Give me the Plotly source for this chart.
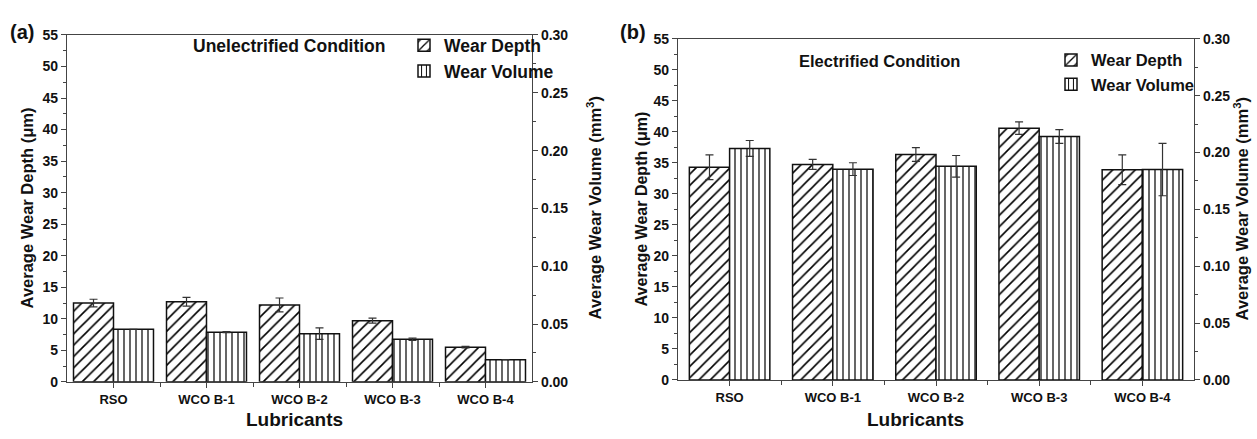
import plotly.graph_objects as go

categories = ["RSO", "WCO B-1", "WCO B-2", "WCO B-3", "WCO B-4"]

unelec_depth = [12.5, 12.7, 12.2, 9.7, 5.5]
unelec_depth_err = [0.6, 0.7, 1.1, 0.4, 0.12]
unelec_volume = [0.0455, 0.0430, 0.0417, 0.0369, 0.0192]
unelec_volume_err = [0.0, 0.0005, 0.005, 0.001, 0.0]

elec_depth = [34.3, 34.75, 36.35, 40.6, 33.9]
elec_depth_err = [2.0, 0.8, 1.1, 1.0, 2.4]
elec_volume = [0.2036, 0.1854, 0.1879, 0.2141, 0.1850]
elec_volume_err = [0.007, 0.0056, 0.0095, 0.006, 0.023]

depth_ticks = [0, 5, 10, 15, 20, 25, 30, 35, 40, 45, 50, 55]
volume_ticks = [0.00, 0.05, 0.10, 0.15, 0.20, 0.25, 0.30]

W, H = 1257, 439
FONT = "Liberation Sans"
AX = "#444"


def px(x):
    return x / W


def py(y):
    return 1 - y / H


idx = list(range(len(categories)))

fig = go.Figure()


def add_panel(depth, depth_err, vol, vol_err, xa, ya, ya2, legend, bw):
    fig.add_trace(go.Bar(
        x=idx, y=depth, name="Wear Depth", xaxis=xa, yaxis=ya, legend=legend,
        width=bw, offset=-bw,
        marker=dict(color="white", line=dict(color="#111", width=1.5),
                    pattern=dict(shape="/", fgcolor="#000", bgcolor="white", size=8,
                                 solidity=0.2, fgopacity=1)),
        error_y=dict(type="data", array=depth_err, visible=True, color="#333", thickness=1.2, width=4),
    ))
    fig.add_trace(go.Bar(
        x=idx, y=vol, name="Wear Volume", xaxis=xa, yaxis=ya2, legend=legend,
        width=bw, offset=0,
        marker=dict(color="white", line=dict(color="#111", width=1.5),
                    pattern=dict(shape="|", fgcolor="#000", bgcolor="white", size=6,
                                 solidity=0.2, fgopacity=1)),
        error_y=dict(type="data", array=vol_err, visible=True, color="#333", thickness=1.2, width=4),
    ))


add_panel(unelec_depth, unelec_depth_err, unelec_volume, unelec_volume_err, "x", "y", "y2", "legend", 0.43)
add_panel(elec_depth, elec_depth_err, elec_volume, elec_volume_err, "x2", "y3", "y4", "legend2", 0.39)

tickfont_num = dict(family=FONT, size=14, color="#111", weight="bold")
tickfont_cat = dict(family=FONT, size=13, color="#111", weight="bold")


def xaxis(dom, anchor):
    return dict(domain=dom, anchor=anchor, range=[-0.5, 4.5], tickmode="array", tickvals=idx,
                ticktext=categories, ticks="outside", ticklen=5, tickcolor=AX, tickwidth=1,
                showline=True, linecolor=AX, linewidth=1.2, mirror=True, showgrid=False,
                zeroline=False, tickfont=tickfont_cat,
                minor=dict(tickmode="array", tickvals=[0.5, 1.5, 2.5, 3.5], ticks="outside",
                           ticklen=4, tickcolor=AX))


def yleft(dom, anchor):
    return dict(domain=dom, anchor=anchor, range=[0, 55], tickmode="array", tickvals=depth_ticks,
                ticks="outside", ticklen=5, tickcolor=AX, showline=True, linecolor=AX, linewidth=1.2,
                showgrid=False, zeroline=False, tickfont=tickfont_num,
                minor=dict(dtick=2.5, tick0=0, ticks="outside", ticklen=3, tickcolor=AX))


def yright(over, anchor):
    return dict(overlaying=over, anchor=anchor, side="right", range=[0, 0.30], tickmode="array",
                tickvals=volume_ticks, tickformat=".2f", ticks="outside", ticklen=5, tickcolor=AX,
                showline=True, linecolor=AX, linewidth=1.2, showgrid=False, zeroline=False,
                tickfont=tickfont_num,
                minor=dict(dtick=0.025, tick0=0, ticks="outside", ticklen=3, tickcolor=AX))


fig.update_layout(
    width=W, height=H, margin=dict(l=0, r=0, t=0, b=0),
    paper_bgcolor="white", plot_bgcolor="white", barmode="overlay",
    xaxis=xaxis([px(67), px(532)], "y"),
    yaxis=yleft([py(388), py(28)], "x"),
    yaxis2=yright("y", "x"),
    xaxis2=xaxis([px(678), px(1194)], "y3"),
    yaxis3=yleft([py(386), py(32)], "x2"),
    yaxis4=yright("y3", "x2"),
    legend=dict(x=px(404), y=py(20), xanchor="left", yanchor="top", bgcolor="rgba(0,0,0,0)",
                font=dict(family=FONT, size=17.5, color="#111", weight="bold"), tracegroupgap=0,
                itemwidth=30),
    legend2=dict(x=px(1200), y=py(36), xanchor="right", yanchor="top", bgcolor="rgba(0,0,0,0)",
                 font=dict(family=FONT, size=16.5, color="#111", weight="bold"), tracegroupgap=0,
                 itemwidth=30),
)

ann_font = dict(family=FONT, color="#111", weight="bold")
annotations = [
    dict(text="(a)", x=px(22), y=py(25), font=dict(size=20, **ann_font)),
    dict(text="(b)", x=px(633), y=py(25), font=dict(size=20, **ann_font)),
    dict(text="Unelectrified Condition", x=px(388), y=py(39), xanchor="right", font=dict(size=17.5, **ann_font)),
    dict(text="Electrified Condition", x=px(962), y=py(55), xanchor="right", font=dict(size=16.5, **ann_font)),
    dict(text="Average Wear Depth (μm)", x=px(27), y=py(208), textangle=-90, font=dict(size=16.5, **ann_font)),
    dict(text="Average Wear Volume (mm<sup>3</sup>)", x=px(594), y=py(208), textangle=-90, font=dict(size=16.5, **ann_font)),
    dict(text="Average Wear Depth (μm)", x=px(641), y=py(209), textangle=-90, font=dict(size=16, **ann_font)),
    dict(text="Average Wear Volume (mm<sup>3</sup>)", x=px(1241), y=py(209), textangle=-90, font=dict(size=16.5, **ann_font)),
    dict(text="Lubricants", x=px(294), y=py(427), font=dict(size=19, **ann_font)),
    dict(text="Lubricants", x=px(915), y=py(427), font=dict(size=19, **ann_font)),
]
for a in annotations:
    a.update(xref="paper", yref="paper", showarrow=False, xanchor=a.get("xanchor", "center"), yanchor="middle")
fig.update_layout(annotations=annotations)

fig.write_html("out.html")
